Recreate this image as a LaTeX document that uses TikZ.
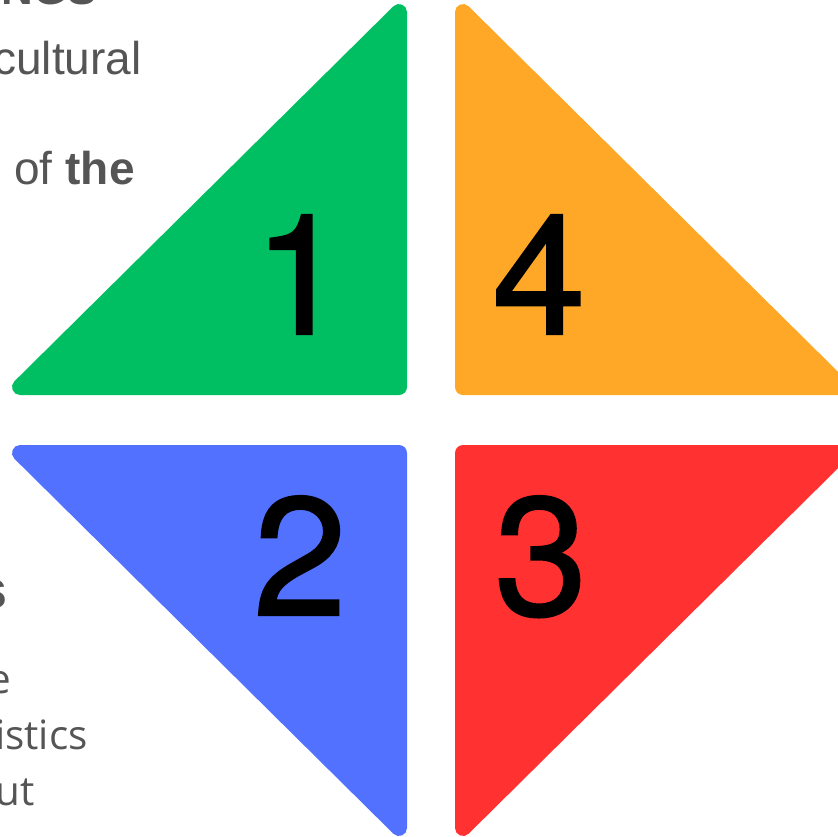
\documentclass[tikz,border=0pt]{standalone}
\usepackage{fontspec}
\setmainfont{Liberation Sans}
\newfontfamily\bodyfont{Open Sans}
\newfontfamily\digitfont{TeX Gyre Heros}[FakeBold=1.2]
\usepackage{xcolor}
\definecolor{qgreen}{HTML}{00BF63}
\definecolor{qorange}{HTML}{FFA726}
\definecolor{qblue}{HTML}{5271FF}
\definecolor{qred}{HTML}{FF3131}
\definecolor{txtgray}{HTML}{555555}

\begin{document}
\begin{tikzpicture}[
        x=0.02cm, y=-0.02cm,
        tri/.style={line width=0.32cm, line join=round},
        digit/.style={anchor=base, inner sep=0pt, font=\fontsize{95.6}{96}\digitfont},
        sidetxt/.style={anchor=base east, inner sep=0pt, text=txtgray, font=\fontsize{26.2}{30}\selectfont},
        sidehead/.style={sidetxt, font=\fontsize{25}{30}\selectfont\bfseries},
        bodytxt/.style={sidetxt, font=\fontsize{23}{30}\bodyfont}
    ]
        \useasboundingbox (0,0) rectangle (838,836);

        % four quadrant triangles
        \filldraw[tri, fill=qgreen, draw=qgreen] (20,387) -- (399,387) -- (399,12) -- cycle;
        \filldraw[tri, fill=qorange, draw=qorange] (463,12) -- (463,387) -- (842,387) -- cycle;
        \filldraw[tri, fill=qblue, draw=qblue] (20,453) -- (399,453) -- (399,828) -- cycle;
        \filldraw[tri, fill=qred, draw=qred] (463,453) -- (842,453) -- (463,828) -- cycle;

        \node[digit] (one) at (300,334) {1};
        \node[digit] (four) at (539,334) {4};
        \node[digit] (two) at (300,615) {2};
        \node[digit] (three) at (541,615) {3};

        % cut-off text on the left
        \node[sidehead] (head) at (97,4) {INGS};
        \node[sidetxt] (cult) at (142,74) {cultural};
        \node[sidetxt] (ofthe) at (135,184) {of \textbf{the}};
        \node[sidetxt, font=\fontsize{30.7}{34}\selectfont\bfseries] (shead) at (8,608) {s};
        \node[bodytxt] (le) at (12,693) {e};
        \node[bodytxt] (listics) at (88,749) {istics};
        \node[bodytxt] (lut) at (35,805) {ut};
    \end{tikzpicture}
\end{document}
